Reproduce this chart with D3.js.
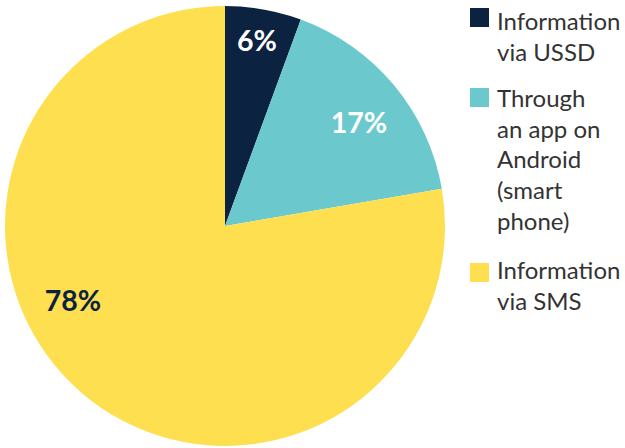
<!DOCTYPE html>
<html><head><meta charset="utf-8">
<script src="https://d3js.org/d3.v7.min.js"></script>
<style>body{margin:0;background:#fff;} svg{display:block;}</style>
</head><body>
<script>
const categories = ["Information via USSD", "Through an app on Android (smart phone)", "Information via SMS"];
const values = [5.6, 16.7, 77.7];
const valueLabels = ["6%", "17%", "78%"];
const legendLines = [["Information", "via USSD"], ["Through", "an app on", "Android", "(smart", "phone)"], ["Information", "via SMS"]];
const colors = ["#0b2240", "#6bc9ce", "#fedf4f"];
const labelColors = ["#ffffff", "#ffffff", "#0b2240"];

const W = 625, H = 448;
const svg = d3.select("body").append("svg").attr("width", W).attr("height", H);
const cx = 225, cy = 226, R = 220;
const pie = d3.pie().sort(null).value(d => d)(values);
const arc = d3.arc().innerRadius(0).outerRadius(R);
const g = svg.append("g").attr("transform", `translate(${cx},${cy})`);
g.selectAll("path").data(pie).join("path").attr("d", arc).attr("fill", (d, i) => colors[i]);

const labelPos = [[32, -186], [134, -104], [-152, 74]];
g.selectAll("text").data(pie).join("text")
  .attr("x", (d, i) => labelPos[i][0]).attr("y", (d, i) => labelPos[i][1])
  .attr("text-anchor", "middle").attr("dominant-baseline", "central")
  .attr("font-family", "Lato, sans-serif").attr("font-weight", 700).attr("font-size", 28.5)
  .attr("fill", (d, i) => labelColors[i]).text((d, i) => valueLabels[i]);

const legTop = [8, 88, 263];
const legBase = [30, 107, 279];
const lg = svg.append("g");
categories.forEach((c, i) => {
  lg.append("rect").attr("x", 470).attr("y", legTop[i]).attr("width", 19).attr("height", 19).attr("fill", colors[i]);
  const t = lg.append("text").attr("x", 497).attr("y", legBase[i])
    .attr("font-family", "Lato, sans-serif").attr("font-size", 24).attr("fill", "#333333");
  legendLines[i].forEach((l, j) => t.append("tspan").attr("x", 497).attr("dy", j === 0 ? 0 : 30.7).text(l));
});
</script>
</body></html>
